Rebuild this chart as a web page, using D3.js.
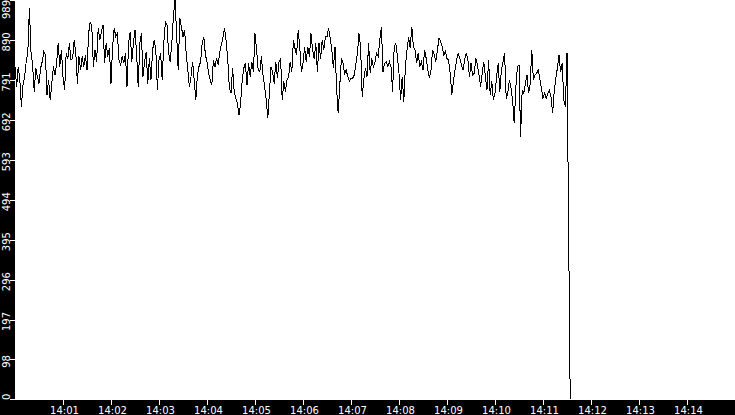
<!DOCTYPE html>
<html>
<head>
<meta charset="utf-8">
<script src="https://cdn.jsdelivr.net/npm/d3@7"></script>
<style>
  body { margin: 0; background: #fff; }
  svg { display: block; }
  .lbl { font-family: "DejaVu Sans", sans-serif; font-size: 10px; fill: #fff; }
</style>
</head>
<body>
<div id="chart"></div>
<script>
// Samples every 2 s starting at 14:00:00
const SAMPLE_SECONDS = 2;
const startTime = new Date(2000, 0, 1, 14, 0, 0);
const endTime = new Date(2000, 0, 1, 14, 15, 0);

const level = [
    // 14:00 - 14:02:24
    824,774,824,791,725,778,799,836,857,968,
    861,828,762,820,799,782,820,836,861,853,
    754,791,741,782,824,803,832,882,824,865,
    799,766,857,844,882,840,844,890,857,782,
    849,815,849,824,853,815,906,935,923,824,
    865,836,919,890,910,927,832,882,849,869,
    782,873,919,898,906,840,828,849,832,857,
    774,882,
    // 14:02:24 - 14:04:48
    910,836,882,915,857,774,882,906,799,836,
    861,782,844,791,865,890,865,766,840,857,
    791,882,935,927,857,836,882,948,989,906,
    815,944,923,898,915,857,815,774,799,836,
    791,741,803,824,836,882,898,853,836,807,
    791,778,840,824,844,828,861,878,898,919,
    886,840,770,758,820,762,745,733,704,733,
    791,820,
    // 14:04:48 - 14:07:12
    832,778,832,799,836,811,906,865,815,811,
    849,803,774,741,696,758,824,811,782,836,
    795,836,844,741,787,762,791,799,836,811,
    890,869,853,915,869,811,832,873,836,873,
    849,906,865,844,882,811,882,844,890,865,
    898,898,919,894,865,820,873,770,708,778,
    844,832,807,815,799,787,795,795,803,828,
    857,906,
    // 14:07:12 - 14:09:36
    873,749,791,820,799,882,807,844,824,836,
    857,849,890,923,811,832,836,824,836,824,
    762,873,882,849,807,741,799,737,824,865,
    898,869,923,873,865,832,857,824,836,815,
    865,844,815,795,815,865,853,836,865,894,
    886,873,853,861,844,840,807,754,787,815,
    840,857,844,828,815,840,857,844,799,832,
    803,807,
    // 14:09:36 - 14:11:36
    844,828,803,774,807,836,799,766,840,754,
    787,741,758,799,832,762,815,836,857,745,
    758,791,770,741,683,770,824,828,650,766,
    758,782,803,758,782,865,791,803,807,815,
    795,770,745,758,745,758,766,749,708,762,
    795,820,853,811,832,741,725,857,
    // feed stops
    427,0
];

const yTickLabels = [0, 98, 197, 296, 395, 494, 593, 692, 791, 890, 989];
const yMax = 989;

const width = 735;
const height = 415;
const left = 15;
const bottom = 400;

const svg = d3.select('#chart').append('svg')
    .attr('width', width)
    .attr('height', height);

svg.append('rect')
    .attr('width', width)
    .attr('height', height)
    .attr('fill', '#fff');

const x = d3.scaleTime()
    .domain([startTime, endTime])
    .range([left, width]);

const y = d3.scaleLinear()
    .domain([0, yMax])
    .range([bottom - 1, 0]);

const points = level.map((v, i) => ({
    t: new Date(startTime.getTime() + i * SAMPLE_SECONDS * 1000),
    v: v
}));

// Data line
const line = d3.line()
    .x(d => x(d.t))
    .y(d => y(d.v));

svg.append('path')
    .datum(points)
    .attr('d', line)
    .attr('fill', 'none')
    .attr('stroke', '#000')
    .attr('stroke-width', 1)
    .attr('shape-rendering', 'crispEdges');

// Black axis bands
svg.append('rect')
    .attr('x', 0).attr('y', 0)
    .attr('width', left).attr('height', height)
    .attr('fill', '#000');

svg.append('rect')
    .attr('x', 0).attr('y', bottom)
    .attr('width', width).attr('height', height - bottom)
    .attr('fill', '#000');

// Y axis ticks and rotated labels (kept inside the band)
const yTicks = svg.append('g');

yTicks.selectAll('line')
    .data(yTickLabels)
    .enter()
    .append('line')
    .attr('x1', left - 5).attr('x2', left)
    .attr('y1', d => Math.round(y(d)) + 0.5)
    .attr('y2', d => Math.round(y(d)) + 0.5)
    .attr('stroke', '#fff');

yTicks.selectAll('text')
    .data(yTickLabels)
    .enter()
    .append('text')
    .attr('class', 'lbl')
    .attr('text-anchor', 'middle')
    .text(d => d)
    .each(function(d) {
        const w = this.getComputedTextLength();
        const cy = Math.max(w / 2, Math.min(y(d) + 2, bottom - w / 2));
        d3.select(this).attr('transform', `translate(${left - 5.5},${cy}) rotate(-90)`);
    });

// X axis ticks and labels
const xTickValues = d3.timeMinute.range(
    new Date(2000, 0, 1, 14, 1, 0),
    new Date(2000, 0, 1, 14, 15, 0)
);
const fmt = d3.timeFormat('%H:%M');

const xTicks = svg.append('g');

xTicks.selectAll('line')
    .data(xTickValues)
    .enter()
    .append('line')
    .attr('x1', d => Math.round(x(d)) + 0.5)
    .attr('x2', d => Math.round(x(d)) + 0.5)
    .attr('y1', bottom).attr('y2', bottom + 5)
    .attr('stroke', '#fff');

xTicks.selectAll('text')
    .data(xTickValues)
    .enter()
    .append('text')
    .attr('class', 'lbl')
    .attr('text-anchor', 'middle')
    .attr('x', d => x(d) + 1.5)
    .attr('y', 414)
    .text(d => fmt(d));
</script>
</body>
</html>
